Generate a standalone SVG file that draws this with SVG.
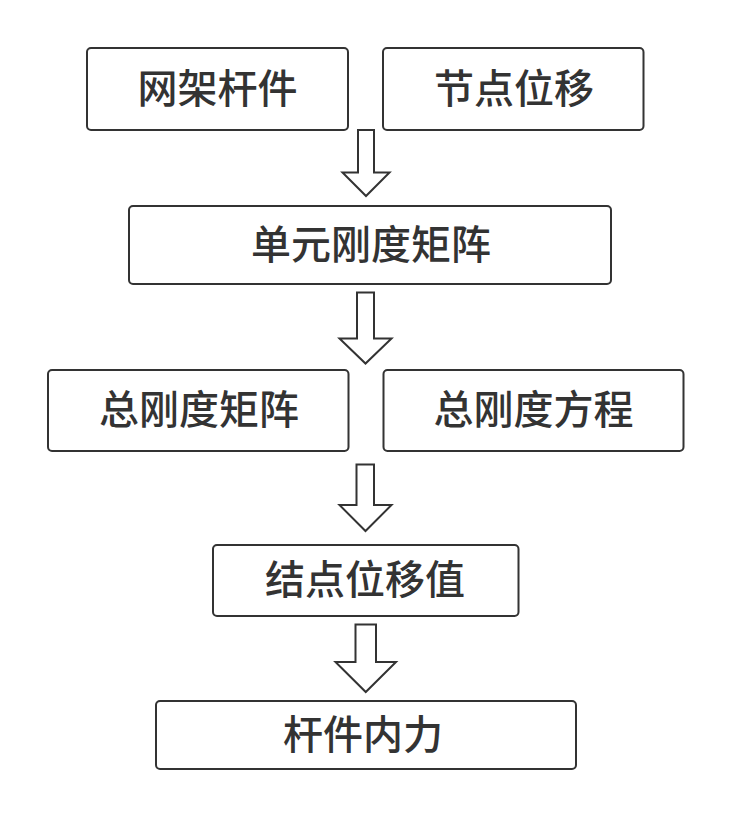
<svg xmlns="http://www.w3.org/2000/svg" width="744" height="831" viewBox="0 0 744 831">
<style>
.box{fill:#ffffff;stroke:#333333;stroke-width:2}
.lbl{font-family:"Noto Sans CJK SC","Noto Sans",sans-serif;font-size:40px;font-weight:500;fill:#333333;text-anchor:middle}
.arr{fill:#ffffff;stroke:#333333;stroke-width:2;stroke-linejoin:miter}
</style>
<rect width="744" height="831" fill="#ffffff"/>
<g id="connectors">
<polygon class="arr" points="358,130 374,130 374,172.5 389.5,172.5 366,196 342.5,172.5 358,172.5"/>
<polygon class="arr" points="357,292.5 374,292.5 374,338.5 391.5,338.5 365.5,363.5 339.5,338.5 357,338.5"/>
<polygon class="arr" points="356.5,464.5 374,464.5 374,505 391.5,505 365.5,531 339.5,505 356.5,505"/>
<polygon class="arr" points="355.5,624.5 376,624.5 376,662 396,662 365.75,692 335.5,662 355.5,662"/>
</g>
<g id="n1"><rect class="box" x="87" y="48" width="261" height="82" rx="4"/><text class="lbl" x="217.5" y="102.5">网架杆件</text></g>
<g id="n2"><rect class="box" x="383" y="48" width="260.5" height="82" rx="4"/><text class="lbl" x="514" y="102.5">节点位移</text></g>
<g id="n3"><rect class="box" x="129" y="206" width="482" height="78" rx="4"/><text class="lbl" x="371" y="258.5">单元刚度矩阵</text></g>
<g id="n4"><rect class="box" x="48" y="370" width="300.5" height="81" rx="4"/><text class="lbl" x="199" y="424">总刚度矩阵</text></g>
<g id="n5"><rect class="box" x="383.5" y="370" width="300" height="81" rx="4"/><text class="lbl" x="533.5" y="424">总刚度方程</text></g>
<g id="n6"><rect class="box" x="213" y="545" width="305.5" height="71" rx="4"/><text class="lbl" x="365" y="594">结点位移值</text></g>
<g id="n7"><rect class="box" x="156" y="701" width="420" height="68" rx="4"/><text class="lbl" x="363" y="748.5">杆件内力</text></g>
</svg>
